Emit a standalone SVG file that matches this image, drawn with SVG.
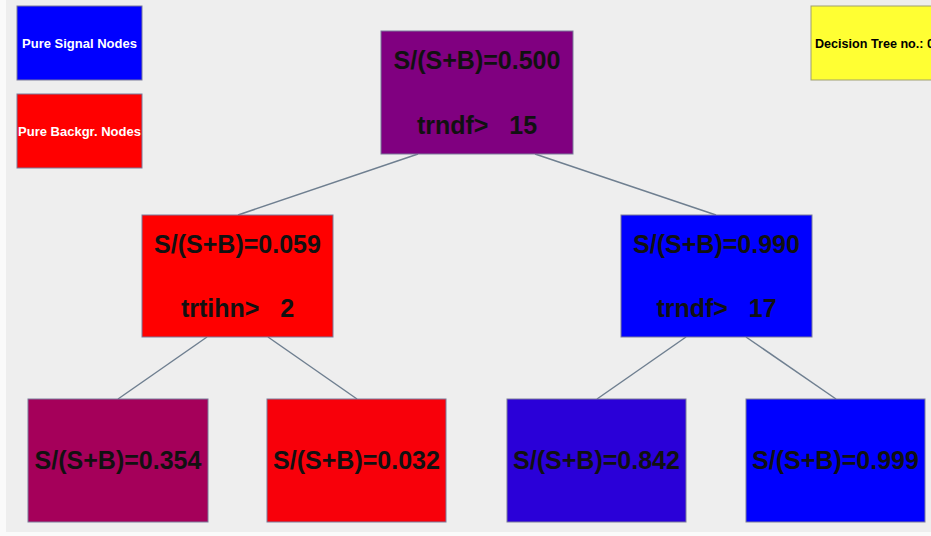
<svg xmlns="http://www.w3.org/2000/svg" width="931" height="536" viewBox="0 0 931 536">
<style>
.nd{stroke:#7a7a9a;stroke-width:1}
.t{font-family:"Liberation Sans",Arial,sans-serif;font-weight:bold;font-size:25px;fill:#111;text-anchor:middle;white-space:pre}
.lg{font-family:"Liberation Sans",Arial,sans-serif;font-weight:bold;font-size:13px;fill:#fff;text-anchor:middle}
.dt{font-family:"Liberation Sans",Arial,sans-serif;font-weight:bold;font-size:12.6px;fill:#000}
#edges line{stroke:#6f7f90;stroke-width:1.5}
</style>
<rect x="0" y="0" width="931" height="536" fill="#fafafa"/>
<rect x="6" y="0" width="925" height="532" fill="#eeeeee"/>
<g id="edges">
<line x1="418" y1="154" x2="238" y2="215"/>
<line x1="535" y1="154" x2="716" y2="215"/>
<line x1="207" y1="337" x2="118" y2="399"/>
<line x1="268" y1="337" x2="357" y2="399"/>
<line x1="686" y1="337" x2="597" y2="399"/>
<line x1="746" y1="337" x2="836" y2="399"/>
</g>
<g id="legend-signal"><rect class="nd" x="17" y="6" width="125" height="74" fill="#0000ff"/><text class="lg" x="79.5" y="47.5">Pure Signal Nodes</text></g>
<g id="legend-backgr"><rect class="nd" x="17" y="94" width="125" height="74" fill="#ff0000"/><text class="lg" x="79.5" y="135.5">Pure Backgr. Nodes</text></g>
<g id="tree-no"><rect x="811" y="6" width="125" height="74" fill="#ffff33" stroke="#a0a070" stroke-width="1"/><text class="dt" x="815" y="48">Decision Tree no.: 0</text></g>
<g id="root"><rect class="nd" x="381" y="31" width="192" height="123" fill="#800080"/><text class="t" x="477" y="69">S/(S+B)=0.500</text><text class="t" x="477" y="134">trndf>   15</text></g>
<g id="n-left"><rect class="nd" x="142" y="215" width="191" height="122" fill="#ff0000"/><text class="t" x="237.5" y="253">S/(S+B)=0.059</text><text class="t" x="237.5" y="317">trtihn>   2</text></g>
<g id="n-right"><rect class="nd" x="621" y="215" width="191" height="122" fill="#0000ff"/><text class="t" x="716.5" y="253">S/(S+B)=0.990</text><text class="t" x="716.5" y="317">trndf>   17</text></g>
<g id="leaf-1"><rect class="nd" x="28" y="399" width="180" height="123" fill="#a5005a"/><text class="t" x="118" y="469">S/(S+B)=0.354</text></g>
<g id="leaf-2"><rect class="nd" x="267" y="399" width="179" height="123" fill="#f8000a"/><text class="t" x="356.5" y="469">S/(S+B)=0.032</text></g>
<g id="leaf-3"><rect class="nd" x="507" y="399" width="179" height="123" fill="#2a00d8"/><text class="t" x="596.5" y="469">S/(S+B)=0.842</text></g>
<g id="leaf-4"><rect class="nd" x="746" y="399" width="179" height="123" fill="#0000ff"/><text class="t" x="835.5" y="469">S/(S+B)=0.999</text></g>
</svg>
